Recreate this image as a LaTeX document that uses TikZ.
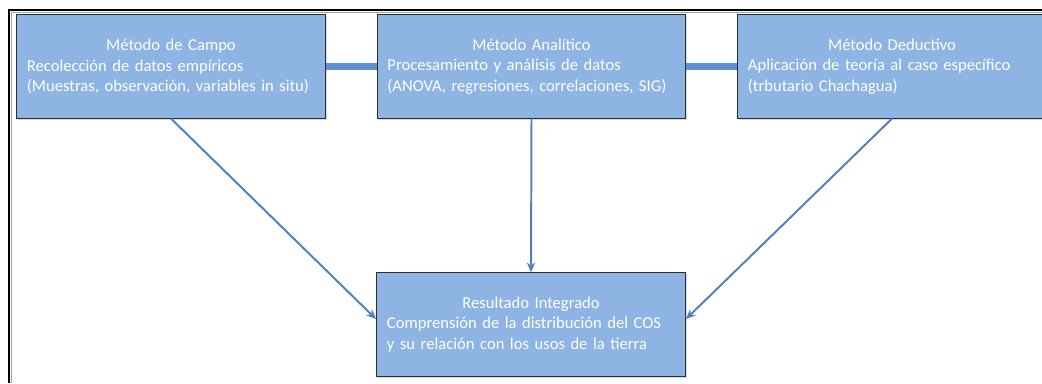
\documentclass[tikz,border=0pt]{standalone}
\usepackage{fontspec}
\setmainfont{Carlito}
\usepackage{tikz}
\usetikzlibrary{arrows.meta,shadows,positioning}
\definecolor{boxfill}{RGB}{141,180,226}
\definecolor{boxline}{RGB}{45,45,45}
\definecolor{arrowblue}{RGB}{79,129,189}
\definecolor{barblue}{RGB}{95,145,210}
\newcommand{\titulo}[1]{\hspace*{\fill}#1\hspace*{\fill}\mbox{}\\}

\begin{document}
\begin{tikzpicture}[x=0.025cm, y=-0.025cm,
    metodo/.style={rectangle, draw=boxline, line width=0.7pt, fill=boxfill,
        minimum width=7.72cm, minimum height=2.58cm, text width=7.2cm,
        align=left, text=white, font=\fontsize{11.8}{14.6}\selectfont,
        drop shadow={opacity=0.3, shadow xshift=1pt, shadow yshift=-1pt}},
    flecha/.style={draw=arrowblue, line width=1.4pt, -{Stealth[length=7pt,width=6pt]}},
    barra/.style={draw=barblue, line width=4.4pt}]
    \clip (0,0) rectangle (1042,383);

    \draw[line width=1.3pt, black] (9,383) -- (9,10) -- (1042,10);
    \draw[line width=0.8pt, black!35] (11.5,383) -- (11.5,12.5) -- (1042,12.5);

    \node[metodo] (campo) at (171,66.5) {\titulo{Método de Campo}
        Recolección de datos empíricos\\
        (Muestras, observación, variables in situ)};
    \node[metodo] (analitico) at (531.5,66.5) {\titulo{Método Analítico}
        Procesamiento y análisis de datos\\
        (ANOVA, regresiones, correlaciones, SIG)};
    \node[metodo] (deductivo) at (892,66.5) {\titulo{Método Deductivo}
        Aplicación de teoría al caso específico\\
        (trbutario Chachagua)};
    \node[metodo] (resultado) at (531,324.5) {\titulo{Resultado Integrado}
        Comprensión de la distribución del COS\\
        y su relación con los usos de la tierra};

    \draw[barra] (campo.east) -- (analitico.west);
    \draw[barra] (analitico.east) -- (deductivo.west);

    \draw[flecha] (campo.south) -- (resultado.178);
    \draw[flecha] (analitico.south) -- (resultado.north);
    \draw[flecha] (deductivo.south) -- (resultado.2);
\end{tikzpicture}
\end{document}
